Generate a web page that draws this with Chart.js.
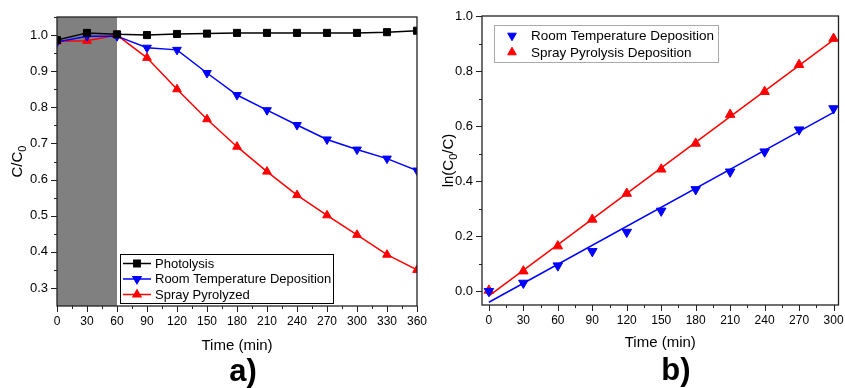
<!DOCTYPE html>
<html>
<head>
<meta charset="utf-8">
<script src="https://cdn.jsdelivr.net/npm/chart.js@4.4.1/dist/chart.umd.min.js"></script>
<style>
  html, body { margin: 0; padding: 0; background: #fff; }
  #wrap { position: relative; width: 845px; height: 388px; overflow: hidden; }
  canvas { position: absolute; top: 0; }
  .tag { position: absolute; font: bold 31px 'Liberation Sans', Arial, sans-serif; transform: translate(-50%, -50%); }
</style>
</head>
<body>
<div id="wrap">
  <canvas id="chartA" width="430" height="388" style="left:0"></canvas>
  <canvas id="chartB" width="415" height="388" style="left:430px"></canvas>
  <div class="tag" style="left:243px;top:371px">a)</div>
  <div class="tag" style="left:676px;top:370px">b)</div>
</div>
<script>
// panel a) - C/C0 vs time
const timeA = [0, 30, 60, 90, 120, 150, 180, 210, 240, 270, 300, 330, 360]
const photolysis = [0.986, 1.006, 1.002, 1.0, 1.003, 1.004, 1.006, 1.006, 1.006, 1.006, 1.006, 1.008, 1.012]
const roomTempA = [0.981, 0.997, 0.997, 0.965, 0.959, 0.895, 0.834, 0.792, 0.751, 0.711, 0.683, 0.658, 0.625]
const sprayA = [0.983, 0.984, 1.0, 0.937, 0.85, 0.767, 0.691, 0.622, 0.557, 0.501, 0.447, 0.392, 0.35]
const darkPeriod = [0, 60]
const xTicksA = [0, 30, 60, 90, 120, 150, 180, 210, 240, 270, 300, 330, 360]
const yTicksA = [0.3, 0.4, 0.5, 0.6, 0.7, 0.8, 0.9, 1.0]

// panel b) - ln(C0/C) vs time, with linear fits
const timeB = [0, 30, 60, 90, 120, 150, 180, 210, 240, 270, 300]
const roomTempB = [0.0, 0.03, 0.093, 0.145, 0.215, 0.292, 0.37, 0.434, 0.507, 0.587, 0.664]
const sprayB = [0.003, 0.073, 0.164, 0.261, 0.355, 0.443, 0.537, 0.642, 0.725, 0.823, 0.918]
const fitTimeB = [0, 300]
const roomTempFit = [-0.04, 0.65]
const sprayFit = [-0.017, 0.913]
const xTicksB = [0, 30, 60, 90, 120, 150, 180, 210, 240, 270, 300]
const yTicksB = [0.0, 0.2, 0.4, 0.6, 0.8, 1.0]

const FONT = "'Liberation Sans', Arial, sans-serif"
Chart.defaults.font.family = FONT
Chart.defaults.color = '#000'

function pts(xs, ys) {
  return xs.map((x, i) => ({ x: x, y: ys[i] }))
}

// frame around the plot area plus major/minor tick marks
function frameTicks() {
  return {
    id: 'frameTicks',
    afterDraw(chart) {
      const { ctx, chartArea: a, scales: { x, y } } = chart
      ctx.save()
      ctx.strokeStyle = '#222'
      ctx.lineWidth = 1.3
      ctx.strokeRect(a.left, a.top, a.right - a.left, a.bottom - a.top)
      const marks = (scale) => {
        const v = scale.ticks.map(t => t.value)
        const half = (v[1] - v[0]) / 2
        const minor = []
        for (let i = 0; i < v.length; i++) {
          if (i > 0) minor.push(v[i] - half)
        }
        if (v[0] - half >= scale.min) minor.push(v[0] - half)
        if (v[v.length - 1] + half <= scale.max) minor.push(v[v.length - 1] + half)
        return { major: v, minor: minor }
      }
      ctx.lineWidth = 1
      ctx.beginPath()
      const mx = marks(x)
      mx.major.forEach(v => { const p = Math.round(x.getPixelForValue(v)) + 0.5; ctx.moveTo(p, a.bottom); ctx.lineTo(p, a.bottom + 6) })
      mx.minor.forEach(v => { const p = Math.round(x.getPixelForValue(v)) + 0.5; ctx.moveTo(p, a.bottom); ctx.lineTo(p, a.bottom + 3) })
      const my = marks(y)
      my.major.forEach(v => { const p = Math.round(y.getPixelForValue(v)) + 0.5; ctx.moveTo(a.left, p); ctx.lineTo(a.left - 6, p) })
      my.minor.forEach(v => { const p = Math.round(y.getPixelForValue(v)) + 0.5; ctx.moveTo(a.left, p); ctx.lineTo(a.left - 3, p) })
      ctx.stroke()
      ctx.restore()
    }
  }
}

// legend box drawn inside the plot
function boxLegend(o) {
  return {
    id: 'boxLegend',
    afterDraw(chart) {
      const ctx = chart.ctx
      const items = chart.data.datasets.filter(d => d.label)
      ctx.save()
      ctx.fillStyle = '#fff'
      ctx.fillRect(o.x, o.y, o.w, o.h)
      ctx.strokeStyle = o.border
      ctx.lineWidth = 1
      ctx.strokeRect(o.x + 0.5, o.y + 0.5, o.w, o.h)
      ctx.font = o.size + 'px ' + FONT
      ctx.textBaseline = 'middle'
      items.forEach((d, i) => {
        const cy = o.y + o.first + i * o.gap
        if (o.line) {
          ctx.strokeStyle = d.borderColor
          ctx.lineWidth = d.borderWidth
          ctx.beginPath()
          ctx.moveTo(o.x + o.line[0], cy)
          ctx.lineTo(o.x + o.line[1], cy)
          ctx.stroke()
        }
        ctx.fillStyle = d.pointBackgroundColor
        ctx.strokeStyle = d.pointBorderColor
        Chart.helpers.drawPoint(ctx, { pointStyle: d.pointStyle, rotation: d.pointRotation || 0, radius: o.radius, borderWidth: 1 }, o.x + o.marker, cy)
        ctx.fillStyle = '#000'
        ctx.fillText(d.label, o.x + o.text, cy + 0.5)
      })
      ctx.restore()
    }
  }
}

// rotated y title with a subscript part
function yTitle(parts, cx, size) {
  return {
    id: 'yTitle',
    afterDraw(chart) {
      const { ctx, chartArea: a } = chart
      const big = size + 'px ' + FONT
      const small = Math.round(size * 0.72) + 'px ' + FONT
      ctx.save()
      ctx.translate(cx, (a.top + a.bottom) / 2)
      ctx.rotate(-Math.PI / 2)
      ctx.fillStyle = '#000'
      ctx.textBaseline = 'alphabetic'
      let total = 0
      parts.forEach(p => { ctx.font = p[1] ? small : big; total += ctx.measureText(p[0]).width })
      let x = -total / 2
      const base = size * 0.36
      parts.forEach(p => {
        ctx.font = p[1] ? small : big
        ctx.fillText(p[0], x, p[1] ? base + size * 0.25 : base)
        x += ctx.measureText(p[0]).width
      })
      ctx.restore()
    }
  }
}

const darkShade = {
  id: 'darkShade',
  beforeDatasetsDraw(chart) {
    const { ctx, chartArea: a, scales: { x } } = chart
    const x0 = x.getPixelForValue(darkPeriod[0])
    const x1 = x.getPixelForValue(darkPeriod[1])
    ctx.save()
    ctx.fillStyle = '#808080'
    ctx.fillRect(x0, a.top, x1 - x0, a.bottom - a.top)
    ctx.restore()
  }
}

function xAxis(min, max, ticks, height, titlePad) {
  return {
    type: 'linear',
    min: min,
    max: max,
    grid: { display: false, drawTicks: false },
    border: { display: false },
    afterBuildTicks: s => { s.ticks = ticks.map(v => ({ value: v })) },
    ticks: { padding: 8, autoSkip: false, maxRotation: 0, font: { size: 12 }, callback: v => String(v) },
    title: { display: true, text: 'Time (min)', font: { size: 15 }, padding: { top: 0, bottom: titlePad } },
    afterFit: s => { s.height = height; s.paddingLeft = 0; s.paddingRight = 0 }
  }
}

function yAxis(min, max, ticks, width) {
  return {
    type: 'linear',
    min: min,
    max: max,
    grid: { display: false, drawTicks: false },
    border: { display: false },
    afterBuildTicks: s => { s.ticks = ticks.map(v => ({ value: v })) },
    ticks: { padding: 9, autoSkip: false, font: { size: 13 }, callback: v => v.toFixed(1) },
    afterFit: s => { s.width = width; s.paddingTop = 0; s.paddingBottom = 0 }
  }
}

function series(label, data, color, style, rotation, radius, showLine) {
  return {
    label: label,
    data: data,
    showLine: showLine,
    borderColor: color,
    backgroundColor: color,
    pointBackgroundColor: color,
    pointBorderColor: color,
    borderWidth: 1.5,
    pointStyle: style,
    pointRotation: rotation,
    pointRadius: radius,
    pointBorderWidth: 1,
    tension: 0
  }
}

const chartA = new Chart(document.getElementById('chartA'), {
  type: 'scatter',
  data: {
    datasets: [
      series('Photolysis', pts(timeA, photolysis), '#000000', 'rect', 0, 5, true),
      series('Room Temperature Deposition', pts(timeA, roomTempA), '#0000ff', 'triangle', 180, 5, true),
      series('Spray Pyrolyzed', pts(timeA, sprayA), '#ff0000', 'triangle', 0, 5, true)
    ]
  },
  options: {
    responsive: false,
    animation: false,
    layout: { padding: { left: 0, right: 13, top: 17, bottom: 0 } },
    scales: {
      x: xAxis(0, 360, xTicksA, 82, 33),
      y: yAxis(0.25, 1.05, yTicksA, 57)
    },
    plugins: { legend: { display: false }, tooltip: { enabled: false } }
  },
  plugins: [darkShade, frameTicks(), yTitle([['C/C', false], ['0', true]], 17, 15),
    boxLegend({ x: 120, y: 254, w: 213, h: 49, border: '#000', size: 13, first: 9.5, gap: 15.5, line: [3, 31], marker: 17, text: 35, radius: 4.5 })]
})

const chartB = new Chart(document.getElementById('chartB'), {
  type: 'scatter',
  data: {
    datasets: [
      series('Room Temperature Deposition', pts(timeB, roomTempB), '#0000ff', 'triangle', 180, 5.5, false),
      series('Spray Pyrolysis Deposition', pts(timeB, sprayB), '#ff0000', 'triangle', 0, 5.5, false),
      series(undefined, pts(fitTimeB, roomTempFit), '#0000ff', 'circle', 0, 0, true),
      series(undefined, pts(fitTimeB, sprayFit), '#ff0000', 'circle', 0, 0, true)
    ]
  },
  options: {
    responsive: false,
    animation: false,
    layout: { padding: { left: 0, right: 4, top: 16, bottom: 0 } },
    scales: {
      x: xAxis(-6, 304.3, xTicksB, 83, 36),
      y: yAxis(-0.05, 1.0, yTicksB, 52)
    },
    plugins: { legend: { display: false }, tooltip: { enabled: false } }
  },
  plugins: [frameTicks(), yTitle([['ln(C', false], ['0', true], ['/C)', false]], 18, 15),
    boxLegend({ x: 64, y: 25, w: 224, h: 37, border: '#aaa', size: 13.5, first: 10.7, gap: 16.6, line: null, marker: 18, text: 37, radius: 5 })]
})
</script>
</body>
</html>
